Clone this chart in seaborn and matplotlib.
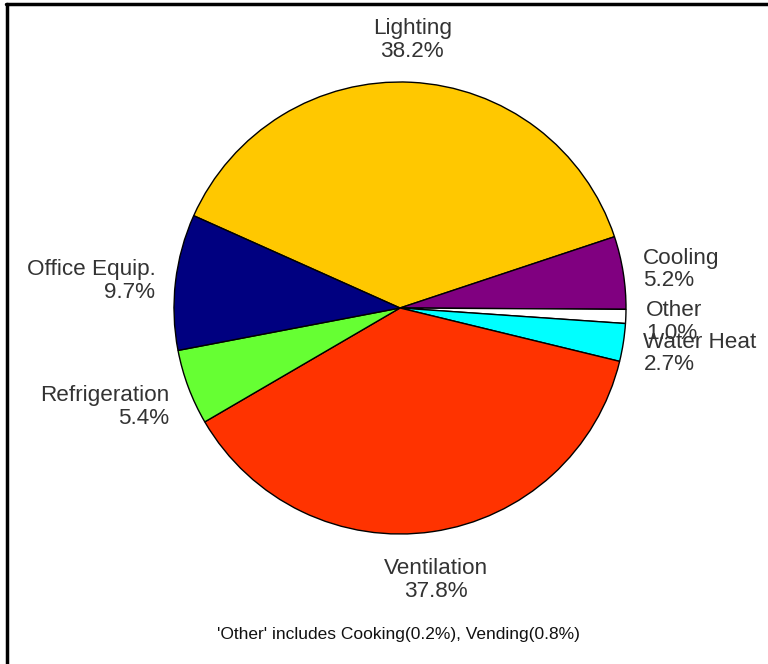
import numpy as np
import matplotlib.pyplot as plt
import seaborn as sns
from matplotlib.lines import Line2D

# data
categories = ['Lighting', 'Cooling', 'Other', 'Water Heat', 'Ventilation',
              'Refrigeration', 'Office Equip.']
shares = [38.2, 5.2, 1.0, 2.7, 37.8, 5.4, 9.7]
colors = ['#FFC800', '#800080', '#FFFFFF', '#00FFFF', '#FF3300', '#66FF33', '#000080']
note = "'Other' includes Cooking(0.2%), Vending(0.8%)"

sns.set_theme(style='white')
plt.rcParams['font.family'] = ['Liberation Sans', 'DejaVu Sans']

fig = plt.figure(figsize=(7.68, 6.64), dpi=100)
ax = fig.add_axes([0, 0, 1, 1])

cx, cy, r = 400, 356, 226  # pie centre / radius in pixel units
wedges, _ = ax.pie(shares, colors=colors, startangle=155.9, counterclock=False,
                   center=(cx, cy), radius=r,
                   wedgeprops=dict(edgecolor='black', linewidth=1))
ax.set_xlim(0, 768)
ax.set_ylim(0, 664)
ax.set_aspect('equal')
ax.axis('off')

# slice labels just outside the pie
for w, name, val in zip(wedges, categories, shares):
    mid = np.deg2rad((w.theta1 + w.theta2) / 2)
    c, s = np.cos(mid), np.sin(mid)
    x = cx + 1.09 * r * c
    ha = 'left' if c > 0.3 else ('right' if c < -0.3 else 'center')
    if s > 0.7:
        va, y = 'bottom', cy + 1.09 * r * s
    elif s < -0.7:
        va, y = 'top', cy + 1.09 * r * s - 6
    else:
        va, y = 'center', cy + 1.2 * r * s - 4
    ax.text(x, y, f'{name}\n{val:.1f}%', ha=ha, va=va, multialignment=ha,
            fontsize=16.2, color='#333333', linespacing=1.12)

ax.text(398, 30, note, ha='center', va='center', fontsize=12.5, color='#111111')

# frame edges (top and left) as in the screenshot
fig.add_artist(Line2D([6 / 768, 1], [1 - 4 / 664, 1 - 4 / 664], color='black', lw=2.5))
fig.add_artist(Line2D([7 / 768, 7 / 768], [0, 1 - 4 / 664], color='black', lw=2.5))

fig.savefig('out.png', dpi=100, facecolor='white')
